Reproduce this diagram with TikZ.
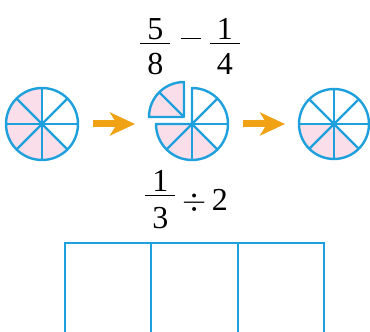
\documentclass[tikz,border=0pt]{standalone}
\usepackage{amsmath}
\usepackage{graphicx}
\usepackage{fontspec}
\setmainfont{Liberation Serif}
\usetikzlibrary{arrows.meta,positioning,calc}
\definecolor{pieblue}{RGB}{30,160,220}
\definecolor{piepink}{RGB}{250,222,234}
\definecolor{arroworange}{RGB}{240,162,20}
\newcommand{\fracdigit}[2][-6pt]{\makebox[30pt]{\raisebox{#1}[\height][\depth]{#2}}}

\begin{document}
\begin{tikzpicture}[
  x=1pt,y=1pt,
  pie/.style={circle,minimum size=72pt,inner sep=0pt,outer sep=0pt},
  rim/.style={draw=pieblue,line width=2.4pt,line join=round},
  part/.style={fill=piepink},
  flow/.style={arroworange,line width=7pt,-{Stealth[length=25pt,width=23pt,inset=7pt]}},
  cell/.style={draw=pieblue,line width=2.2pt,minimum width=86.3pt,minimum height=100pt,
    inner sep=0pt,outer sep=0pt},
  sum/.style={font=\fontsize{32}{38}\selectfont,inner sep=0pt,anchor=base west}
]
  \clip (0,0) rectangle (370,332);

  \node[sum] (minus) at (139,282)
    {$\displaystyle\frac{\fracdigit{5}}{\fracdigit{8}}\text{\hspace{9pt}\rule[11pt]{20pt}{1.3pt}\hspace{8pt}}\frac{\fracdigit{1}}{\fracdigit{4}}$};
  \node[sum] (divide) at (144,130)
    {$\displaystyle\frac{\fracdigit{1}}{\fracdigit[-8pt]{3}}\mathbin{\raisebox{-9pt}{\scalebox{1.25}{$\div$}}}\raisebox{-9pt}{2}$};

  \node[pie] (pieA) at (42,208) {};
  \node[pie] (pieB) at (192,208) {};
  \node[pie,minimum size=70pt] (pieC) at (334,208) {};
  \coordinate (slice) at ($(pieB.center)+(-8,7)$);

  \fill[part] (pieA.center) -- ++(90:36) arc[start angle=90,end angle=315,radius=36] -- cycle;
  \draw[rim] (pieA.center) circle[radius=36];
  \foreach \a in {0,45,...,315}
    \draw[rim] (pieA.center) -- ++(\a:36);

  \fill[part] (pieB.center) -- ++(180:36) arc[start angle=180,end angle=315,radius=36] -- cycle;
  \draw[rim] (pieB.center) -- ++(180:36) arc[start angle=180,end angle=450,radius=36] -- cycle;
  \foreach \a in {225,270,315,0,45}
    \draw[rim] (pieB.center) -- ++(\a:36);
  \fill[part] (slice) -- ++(90:35) arc[start angle=90,end angle=180,radius=35] -- cycle;
  \draw[rim] (slice) -- ++(90:35) arc[start angle=90,end angle=180,radius=35] -- cycle;
  \draw[rim] (slice) -- ++(135:35);

  \fill[part] (pieC.center) -- ++(180:35) arc[start angle=180,end angle=315,radius=35] -- cycle;
  \draw[rim] (pieC.center) circle[radius=35];
  \foreach \a in {0,45,...,315}
    \draw[rim] (pieC.center) -- ++(\a:35);

  \draw[flow,shorten <=15pt,shorten >=21pt] (pieA) -- (pieB);
  \draw[flow,shorten <=15pt,shorten >=14pt] (pieB) -- (pieC);

  \node[cell,anchor=north west] (cellA) at (65,89.3) {};
  \node[cell,right=0pt of cellA] (cellB) {};
  \node[cell,right=0pt of cellB] (cellC) {};
\end{tikzpicture}
\end{document}
